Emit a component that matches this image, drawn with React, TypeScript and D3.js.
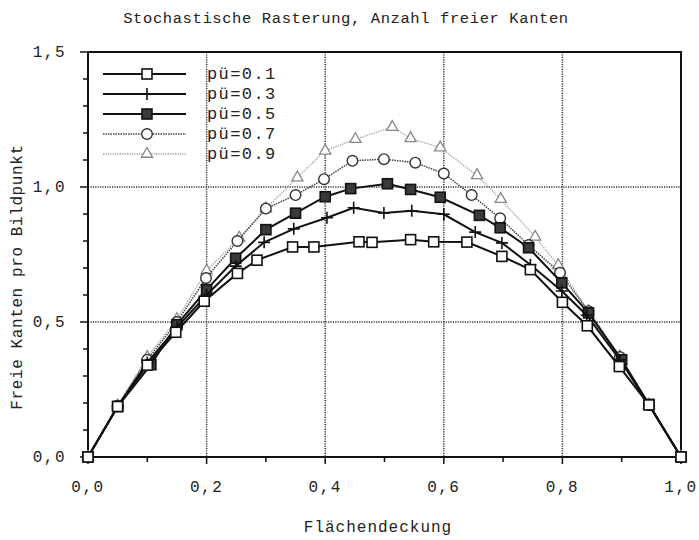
import React, { useRef, useEffect } from 'react';
import * as d3 from 'd3';

// values
const labels = ['pü=0.1', 'pü=0.3', 'pü=0.5', 'pü=0.7', 'pü=0.9'];

const xP01 = [0, 0.05, 0.1, 0.148, 0.196, 0.252, 0.285, 0.345, 0.381, 0.457, 0.479, 0.544, 0.583, 0.639, 0.698, 0.746, 0.8, 0.842, 0.896, 0.946, 1];
const yP01 = [0, 0.187, 0.34, 0.462, 0.577, 0.68, 0.729, 0.778, 0.778, 0.797, 0.795, 0.805, 0.797, 0.796, 0.743, 0.694, 0.573, 0.486, 0.335, 0.193, 0];

const xP03 = [0, 0.05, 0.1, 0.15, 0.2, 0.249, 0.297, 0.347, 0.403, 0.448, 0.499, 0.546, 0.6, 0.653, 0.698, 0.746, 0.799, 0.841, 0.897, 0.946, 1];
const yP03 = [0, 0.187, 0.35, 0.48, 0.6, 0.707, 0.795, 0.845, 0.886, 0.923, 0.904, 0.912, 0.899, 0.833, 0.793, 0.712, 0.615, 0.525, 0.36, 0.193, 0];

const xP05 = [0, 0.05, 0.106, 0.15, 0.2, 0.249, 0.3, 0.35, 0.4, 0.443, 0.505, 0.544, 0.594, 0.66, 0.695, 0.743, 0.799, 0.844, 0.9, 0.946, 1];
const yP05 = [0, 0.187, 0.342, 0.49, 0.62, 0.736, 0.842, 0.903, 0.964, 0.994, 1.012, 0.991, 0.962, 0.895, 0.849, 0.775, 0.645, 0.534, 0.36, 0.195, 0];

const xP07 = [0, 0.05, 0.1, 0.15, 0.199, 0.252, 0.3, 0.35, 0.398, 0.446, 0.499, 0.552, 0.6, 0.647, 0.695, 0.743, 0.796, 0.844, 0.897, 0.946, 1];
const yP07 = [0, 0.19, 0.36, 0.5, 0.663, 0.8, 0.92, 0.97, 1.029, 1.097, 1.103, 1.09, 1.05, 0.97, 0.884, 0.785, 0.682, 0.54, 0.37, 0.193, 0];

const xP09 = [0, 0.05, 0.1, 0.15, 0.2, 0.255, 0.3, 0.353, 0.4, 0.451, 0.513, 0.544, 0.594, 0.656, 0.696, 0.754, 0.793, 0.844, 0.897, 0.946, 1];
const yP09 = [0, 0.19, 0.37, 0.51, 0.69, 0.812, 0.92, 1.035, 1.134, 1.177, 1.222, 1.18, 1.146, 1.043, 0.955, 0.815, 0.71, 0.54, 0.372, 0.193, 0];

const xTicks = [0, 0.2, 0.4, 0.6, 0.8, 1.0];
const yTicks = [0, 0.5, 1.0, 1.5];

const FONT = '"Liberation Mono", "Courier New", monospace';

const App = () => {
  const ref = useRef<SVGSVGElement>(null);

  useEffect(() => {
    const width = 699, height = 540;
    const left = 88, right = 681, top = 52, bottom = 457;

    const x = d3.scaleLinear().domain([0, 1]).range([left, right]);
    const y = d3.scaleLinear().domain([0, 1.5]).range([bottom, top]);

    const svg = d3.select(ref.current);
    svg.selectAll('*').remove();
    svg.attr('width', width).attr('height', height);

    svg.append('rect').attr('width', width).attr('height', height).attr('fill', '#fff');

    // title
    svg.append('text')
      .attr('x', 346).attr('y', 23)
      .attr('text-anchor', 'middle')
      .attr('font-family', FONT).attr('font-size', 15.5)
      .attr('letter-spacing', 0.6)
      .attr('fill', '#222')
      .text('Stochastische Rasterung, Anzahl freier Kanten');

    // grid
    const grid = svg.append('g')
      .attr('stroke', '#333').attr('stroke-width', 1.5).attr('stroke-dasharray', '1.2,1.2');
    [0.2, 0.4, 0.6, 0.8].forEach(v => {
      grid.append('line').attr('x1', x(v)).attr('x2', x(v)).attr('y1', top).attr('y2', bottom);
    });
    [0.5, 1.0].forEach(v => {
      grid.append('line').attr('x1', left).attr('x2', right).attr('y1', y(v)).attr('y2', y(v));
    });

    // ticks
    const ticks = svg.append('g').attr('stroke', '#111').attr('stroke-width', 1.5);
    d3.range(0, 11).forEach(i => {
      const v = i / 10;
      const len = i % 2 === 0 ? 7 : 5;
      ticks.append('line').attr('x1', x(v)).attr('x2', x(v)).attr('y1', bottom).attr('y2', bottom + len);
    });
    d3.range(0, 16).forEach(i => {
      const v = i / 10;
      const len = i % 5 === 0 ? 8 : 5;
      ticks.append('line').attr('x1', left - len).attr('x2', left).attr('y1', y(v)).attr('y2', y(v));
    });

    // frame
    svg.append('rect')
      .attr('x', left).attr('y', top)
      .attr('width', right - left).attr('height', bottom - top)
      .attr('fill', 'none').attr('stroke', '#111').attr('stroke-width', 2);

    // tick labels
    svg.append('g').selectAll('text')
      .data(xTicks)
      .join('text')
      .attr('x', d => x(d)).attr('y', 492)
      .attr('text-anchor', 'middle')
      .attr('font-family', FONT).attr('font-size', 16).attr('letter-spacing', 1.5)
      .attr('fill', '#222')
      .text(d => d3.format('.1f')(d).replace('.', ','));

    svg.append('g').selectAll('text')
      .data(yTicks)
      .join('text')
      .attr('x', 66).attr('y', d => y(d) + 5)
      .attr('text-anchor', 'end')
      .attr('font-family', FONT).attr('font-size', 16).attr('letter-spacing', 1.5)
      .attr('fill', '#222')
      .text(d => d3.format('.1f')(d).replace('.', ','));

    // axis titles
    svg.append('text')
      .attr('x', 378).attr('y', 532)
      .attr('text-anchor', 'middle')
      .attr('font-family', FONT).attr('font-size', 16).attr('letter-spacing', 1)
      .attr('fill', '#222')
      .text('Flächendeckung');

    svg.append('text')
      .attr('transform', `translate(22,277) rotate(-90)`)
      .attr('text-anchor', 'middle')
      .attr('font-family', FONT).attr('font-size', 16).attr('letter-spacing', 0.6)
      .attr('fill', '#222')
      .text('Freie Kanten pro Bildpunkt');

    const series = [
      { xs: xP01, ys: yP01, stroke: '#111', width: 2, dash: null, marker: 'square', fill: '#fff', mstroke: '#111' },
      { xs: xP03, ys: yP03, stroke: '#111', width: 2, dash: null, marker: 'plus', fill: 'none', mstroke: '#111' },
      { xs: xP05, ys: yP05, stroke: '#111', width: 2, dash: null, marker: 'square', fill: '#3a3a3a', mstroke: '#111' },
      { xs: xP07, ys: yP07, stroke: '#444', width: 1.5, dash: '1.5,1', marker: 'circle', fill: '#fff', mstroke: '#333' },
      { xs: xP09, ys: yP09, stroke: '#999', width: 1.3, dash: '1.2,1.2', marker: 'triangle', fill: '#fff', mstroke: '#888' },
    ];

    const symbol = (g, kind, cx, cy, fill, stroke) => {
      if (kind === 'square') {
        g.append('rect').attr('x', cx - 5).attr('y', cy - 5).attr('width', 10).attr('height', 10)
          .attr('fill', fill).attr('stroke', stroke).attr('stroke-width', 1.6);
      } else if (kind === 'plus') {
        g.append('path').attr('d', `M${cx - 6},${cy}H${cx + 6}M${cx},${cy - 6}V${cx === cx ? cy + 6 : 0}`)
          .attr('fill', 'none').attr('stroke', stroke).attr('stroke-width', 1.6);
      } else if (kind === 'circle') {
        g.append('circle').attr('cx', cx).attr('cy', cy).attr('r', 5.3)
          .attr('fill', fill).attr('stroke', stroke).attr('stroke-width', 1.4);
      } else {
        const tri = d3.symbol().type(d3.symbolTriangle).size(55);
        g.append('path').attr('d', tri()).attr('transform', `translate(${cx},${cy})`)
          .attr('fill', fill).attr('stroke', stroke).attr('stroke-width', 1.3);
      }
    };

    const lineGen = d3.line<number>();

    // draw in reverse so black series sit on top
    [...series].reverse().forEach(s => {
      const pts = s.xs.map((v, i) => [x(v), y(s.ys[i])] as [number, number]);
      const g = svg.append('g');
      g.append('path')
        .attr('d', lineGen(pts as any))
        .attr('fill', 'none')
        .attr('stroke', s.stroke)
        .attr('stroke-width', s.width)
        .attr('stroke-dasharray', s.dash);
      pts.forEach(p => symbol(g, s.marker, p[0], p[1], s.fill, s.mstroke));
    });

    // legend
    const leg = svg.append('g');
    series.forEach((s, i) => {
      const ly = 74 + i * 20;
      leg.append('line')
        .attr('x1', 103).attr('x2', 186).attr('y1', ly).attr('y2', ly)
        .attr('stroke', s.stroke).attr('stroke-width', s.width)
        .attr('stroke-dasharray', s.dash);
      symbol(leg, s.marker, 147, ly, s.fill, s.mstroke);
      leg.append('text')
        .attr('x', 207).attr('y', ly + 5)
        .attr('font-family', FONT).attr('font-size', 17).attr('letter-spacing', 1.4)
        .attr('fill', '#222')
        .text(labels[i]);
    });
  }, []);

  return <svg ref={ref} style={{ position: 'absolute', left: 0, top: 0, display: 'block' }} />;
};

export default App;
